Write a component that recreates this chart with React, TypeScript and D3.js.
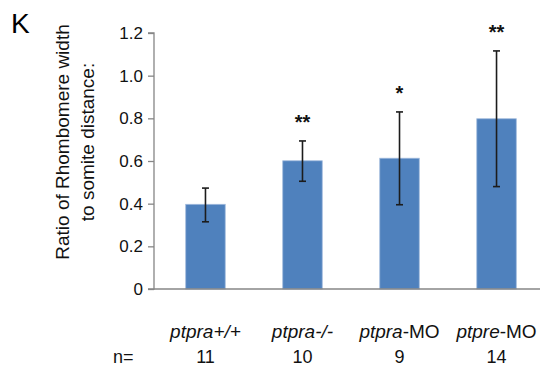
import React, { useRef, useEffect } from 'react';
import * as d3 from 'd3';

const genes = ['ptpra', 'ptpra', 'ptpra', 'ptpre'];
const suffixes = ['+/+', '-/-', '-MO', '-MO'];
const means = [0.397, 0.601, 0.613, 0.798];
const errUp = [0.473, 0.694, 0.83, 1.116];
const errLow = [0.315, 0.505, 0.395, 0.48];
const stars = ['', '**', '*', '**'];
const counts = [11, 10, 9, 14];
const yTicks = [0, 0.2, 0.4, 0.6, 0.8, 1.0, 1.2];

const App = () => {
  const ref = useRef<SVGSVGElement>(null);

  useEffect(() => {
    const svg = d3.select(ref.current);
    svg.selectAll('*').remove();

    const width = 541;
    const height = 367;
    const margin = { top: 33, right: -7, bottom: 78, left: 154 };
    const font = 'Arial, "Liberation Sans", sans-serif';
    const ink = '#111';
    const axisColor = '#868686';

    const idx = means.map((_, i) => String(i));

    const x = d3.scaleBand()
      .domain(idx)
      .range([margin.left, width - margin.right])
      .paddingInner(0.593)
      .paddingOuter(0.327);

    const y = d3.scaleLinear()
      .domain([0, 1.2])
      .range([height - margin.bottom, margin.top]);

    svg.append('text')
      .attr('x', 11)
      .attr('y', 33)
      .attr('font-family', font)
      .attr('font-size', 28)
      .attr('fill', '#000')
      .text('K');

    // y axis
    const yAxis = svg.append('g')
      .attr('transform', `translate(${margin.left},0)`)
      .call(d3.axisLeft(y).tickValues(yTicks).tickSize(6).tickPadding(5)
        .tickFormat(d => (d === 0 ? '0' : d3.format('.1f')(d as number))));
    yAxis.select('.domain').attr('stroke', axisColor).attr('stroke-width', 1.3)
      .attr('d', `M-6,${y(1.2)}H0V${y(0)}H-6`);
    yAxis.selectAll('.tick line').attr('stroke', axisColor).attr('stroke-width', 1.3);
    yAxis.selectAll('.tick text')
      .attr('font-family', font)
      .attr('font-size', 17)
      .attr('fill', ink);

    // bars
    svg.append('g')
      .selectAll('rect')
      .data(means)
      .enter()
      .append('rect')
      .attr('x', (_, i) => x(String(i))!)
      .attr('y', d => y(d))
      .attr('width', x.bandwidth())
      .attr('height', d => y(0) - y(d))
      .attr('fill', '#4F81BD')
      .attr('stroke', '#9fb9dc')
      .attr('stroke-width', 0.8);

    // x axis line
    svg.append('line')
      .attr('x1', margin.left)
      .attr('x2', width - 1)
      .attr('y1', y(0))
      .attr('y2', y(0))
      .attr('stroke', axisColor)
      .attr('stroke-width', 1.5);

    // error bars
    const eb = svg.append('g').attr('stroke', '#1c1c1c').attr('stroke-width', 1.6);
    means.forEach((_, i) => {
      const cx = x(String(i))! + x.bandwidth() / 2;
      eb.append('line').attr('x1', cx).attr('x2', cx).attr('y1', y(errUp[i])).attr('y2', y(errLow[i]));
      eb.append('line').attr('x1', cx - 3.5).attr('x2', cx + 3.5).attr('y1', y(errUp[i])).attr('y2', y(errUp[i]));
      eb.append('line').attr('x1', cx - 3.5).attr('x2', cx + 3.5).attr('y1', y(errLow[i])).attr('y2', y(errLow[i]));
    });

    // significance stars
    svg.append('g')
      .selectAll('text')
      .data(stars)
      .enter()
      .append('text')
      .attr('x', (_, i) => x(String(i))! + x.bandwidth() / 2)
      .attr('y', (_, i) => y(errUp[i]) - 12)
      .attr('text-anchor', 'middle')
      .attr('font-family', font)
      .attr('font-size', 20)
      .attr('font-weight', 'bold')
      .attr('fill', ink)
      .text(d => d);

    // category labels
    const cats = svg.append('g')
      .selectAll('text')
      .data(genes)
      .enter()
      .append('text')
      .attr('x', (_, i) => x(String(i))! + x.bandwidth() / 2)
      .attr('y', 338)
      .attr('text-anchor', 'middle')
      .attr('font-family', font)
      .attr('font-size', 19)
      .attr('fill', ink);
    cats.append('tspan').attr('font-style', 'italic').text(d => d);
    cats.append('tspan')
      .attr('font-style', (_, i) => (suffixes[i].includes('MO') ? 'normal' : 'italic'))
      .text((_, i) => suffixes[i]);

    // n row
    svg.append('text')
      .attr('x', 113)
      .attr('y', 363)
      .attr('font-family', font)
      .attr('font-size', 18)
      .attr('fill', ink)
      .text('n=');
    svg.append('g')
      .selectAll('text')
      .data(counts)
      .enter()
      .append('text')
      .attr('x', (_, i) => x(String(i))! + x.bandwidth() / 2)
      .attr('y', 363)
      .attr('text-anchor', 'middle')
      .attr('font-family', font)
      .attr('font-size', 18)
      .attr('fill', ink)
      .text(d => d);

    // y title
    const title = svg.append('text')
      .attr('transform', 'translate(0,142) rotate(-90)')
      .attr('text-anchor', 'middle')
      .attr('font-family', font)
      .attr('font-size', 19)
      .attr('fill', ink);
    title.append('tspan').attr('x', 0).attr('y', 68.5).text('Ratio of Rhombomere width');
    title.append('tspan').attr('x', 0).attr('y', 93.5).text('to somite distance:');
  }, []);

  return (
    <svg
      ref={ref}
      width={541}
      height={367}
      style={{ position: 'absolute', left: 0, top: 0, background: '#fff' }}
    />
  );
};

export default App;
